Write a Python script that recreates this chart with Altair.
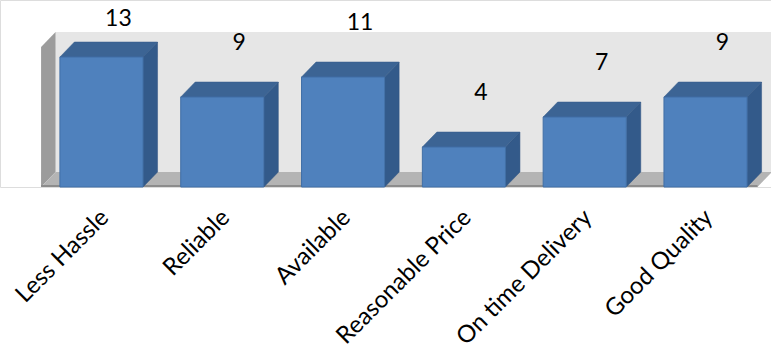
import altair as alt
import pandas as pd

categories = ["Less Hassle", "Reliable", "Available", "Reasonable Price", "On time Delivery", "Good Quality"]
values = [13, 9, 11, 4, 7, 9]

# geometry (style constants)
HALF = 0.344      # half bar width in category units
DX = 0.12         # depth offset in x (category units)
DY = 1.5          # depth offset in y (value units)
WALL_TOP = 14     # wall height (value units, front plane)
XL, XR = -0.5, 5.43

bars = pd.DataFrame({"i": list(range(len(categories))), "cat": categories, "v": values})
bars["x0"] = bars["i"] - HALF
bars["x1"] = bars["i"] + HALF

top_rows, side_rows = [], []
for i, v in zip(bars["i"], bars["v"]):
    l, r = i - HALF, i + HALF
    top_rows += [
        {"b": i, "x": l, "y": v, "y2": v},
        {"b": i, "x": l + DX, "y": v, "y2": v + DY},
        {"b": i, "x": r, "y": v, "y2": v + DY},
        {"b": i, "x": r + DX, "y": v + DY, "y2": v + DY},
    ]
    side_rows += [
        {"b": i, "x": r, "y": 0, "y2": v},
        {"b": i, "x": r + DX, "y": DY, "y2": v + DY},
    ]
top_df = pd.DataFrame(top_rows)
side_df = pd.DataFrame(side_rows)

floor_df = pd.DataFrame([
    {"x": XL, "y": 0, "y2": 0},
    {"x": XL + DX, "y": 0, "y2": DY},
    {"x": XR, "y": 0, "y2": DY},
    {"x": XR + DX, "y": DY, "y2": DY},
])
lwall_df = pd.DataFrame([
    {"x": XL, "y": 0, "y2": WALL_TOP},
    {"x": XL + DX, "y": DY, "y2": WALL_TOP + DY},
])
bwall_df = pd.DataFrame([{"x": XL + DX, "x2": XR + DX + 0.2, "y": DY, "y2": WALL_TOP + DY}])
edge_df = pd.DataFrame([{"x": XL, "x2": XR, "y": 0.1}])

xs = alt.Scale(domain=[-0.84, 5.542], nice=False, zero=False)
ys = alt.Scale(domain=[0, 18.7], nice=False, zero=False)

X = lambda f="x": alt.X(f + ":Q", scale=xs, axis=None)
Y = lambda f="y": alt.Y(f + ":Q", scale=ys, axis=None)

bwall = alt.Chart(bwall_df).mark_rect(color="#e6e6e6").encode(
    x=X(), x2="x2:Q", y=Y(), y2="y2:Q")
lwall = alt.Chart(lwall_df).mark_area(color="#9c9c9c", orient="vertical").encode(
    x=X(), y=Y(), y2="y2:Q")
floor = alt.Chart(floor_df).mark_area(color="#b4b4b4", orient="vertical").encode(
    x=X(), y=Y(), y2="y2:Q")
edge = alt.Chart(edge_df).mark_rule(color="#8c8c8c", strokeWidth=2).encode(
    x=X(), x2="x2:Q", y=Y())

side = alt.Chart(side_df).mark_area(color="#335a8a", orient="vertical", stroke="#2e5280", strokeWidth=0.5).encode(
    x=X(), y=Y(), y2="y2:Q", detail="b:N")
top = alt.Chart(top_df).mark_area(color="#3c6494", orient="vertical", stroke="#355b88", strokeWidth=0.5).encode(
    x=X(), y=Y(), y2="y2:Q", detail="b:N")
front = alt.Chart(bars).mark_rect(color="#4f81bd", stroke="#416fa6", strokeWidth=1).encode(
    x=X("x0"), x2="x1:Q", y=alt.Y("v:Q", scale=ys, axis=None), y2=alt.datum(0))

labels = alt.Chart(bars).transform_calculate(
    ly="min(datum.v + 5.4, 16.8)", lx="datum.i + 0.14"
).mark_text(font="Lato", fontSize=23, color="#000000", baseline="middle", align="center").encode(
    x=X("lx"), y=Y("ly"), text="v:Q")

cat_labels = alt.Chart(bars).transform_calculate(
    ly="-2.7", lx="datum.i + 0.03"
).mark_text(font="Lato", fontSize=24, color="#000000", baseline="middle", align="right", angle=315).encode(
    x=X("lx"), y=Y("ly"), text="cat:N")

chart = alt.layer(bwall, lwall, floor, edge, side, top, front, labels, cat_labels).properties(
    width=771, height=187,
    autosize=alt.AutoSizeParams(type="none"),
    padding={"left": 0, "top": 0, "right": 0, "bottom": 166},
).configure_view(stroke=None).configure(background="#ffffff")

chart.save("out.html", embed_options={"renderer": "svg", "actions": False})
